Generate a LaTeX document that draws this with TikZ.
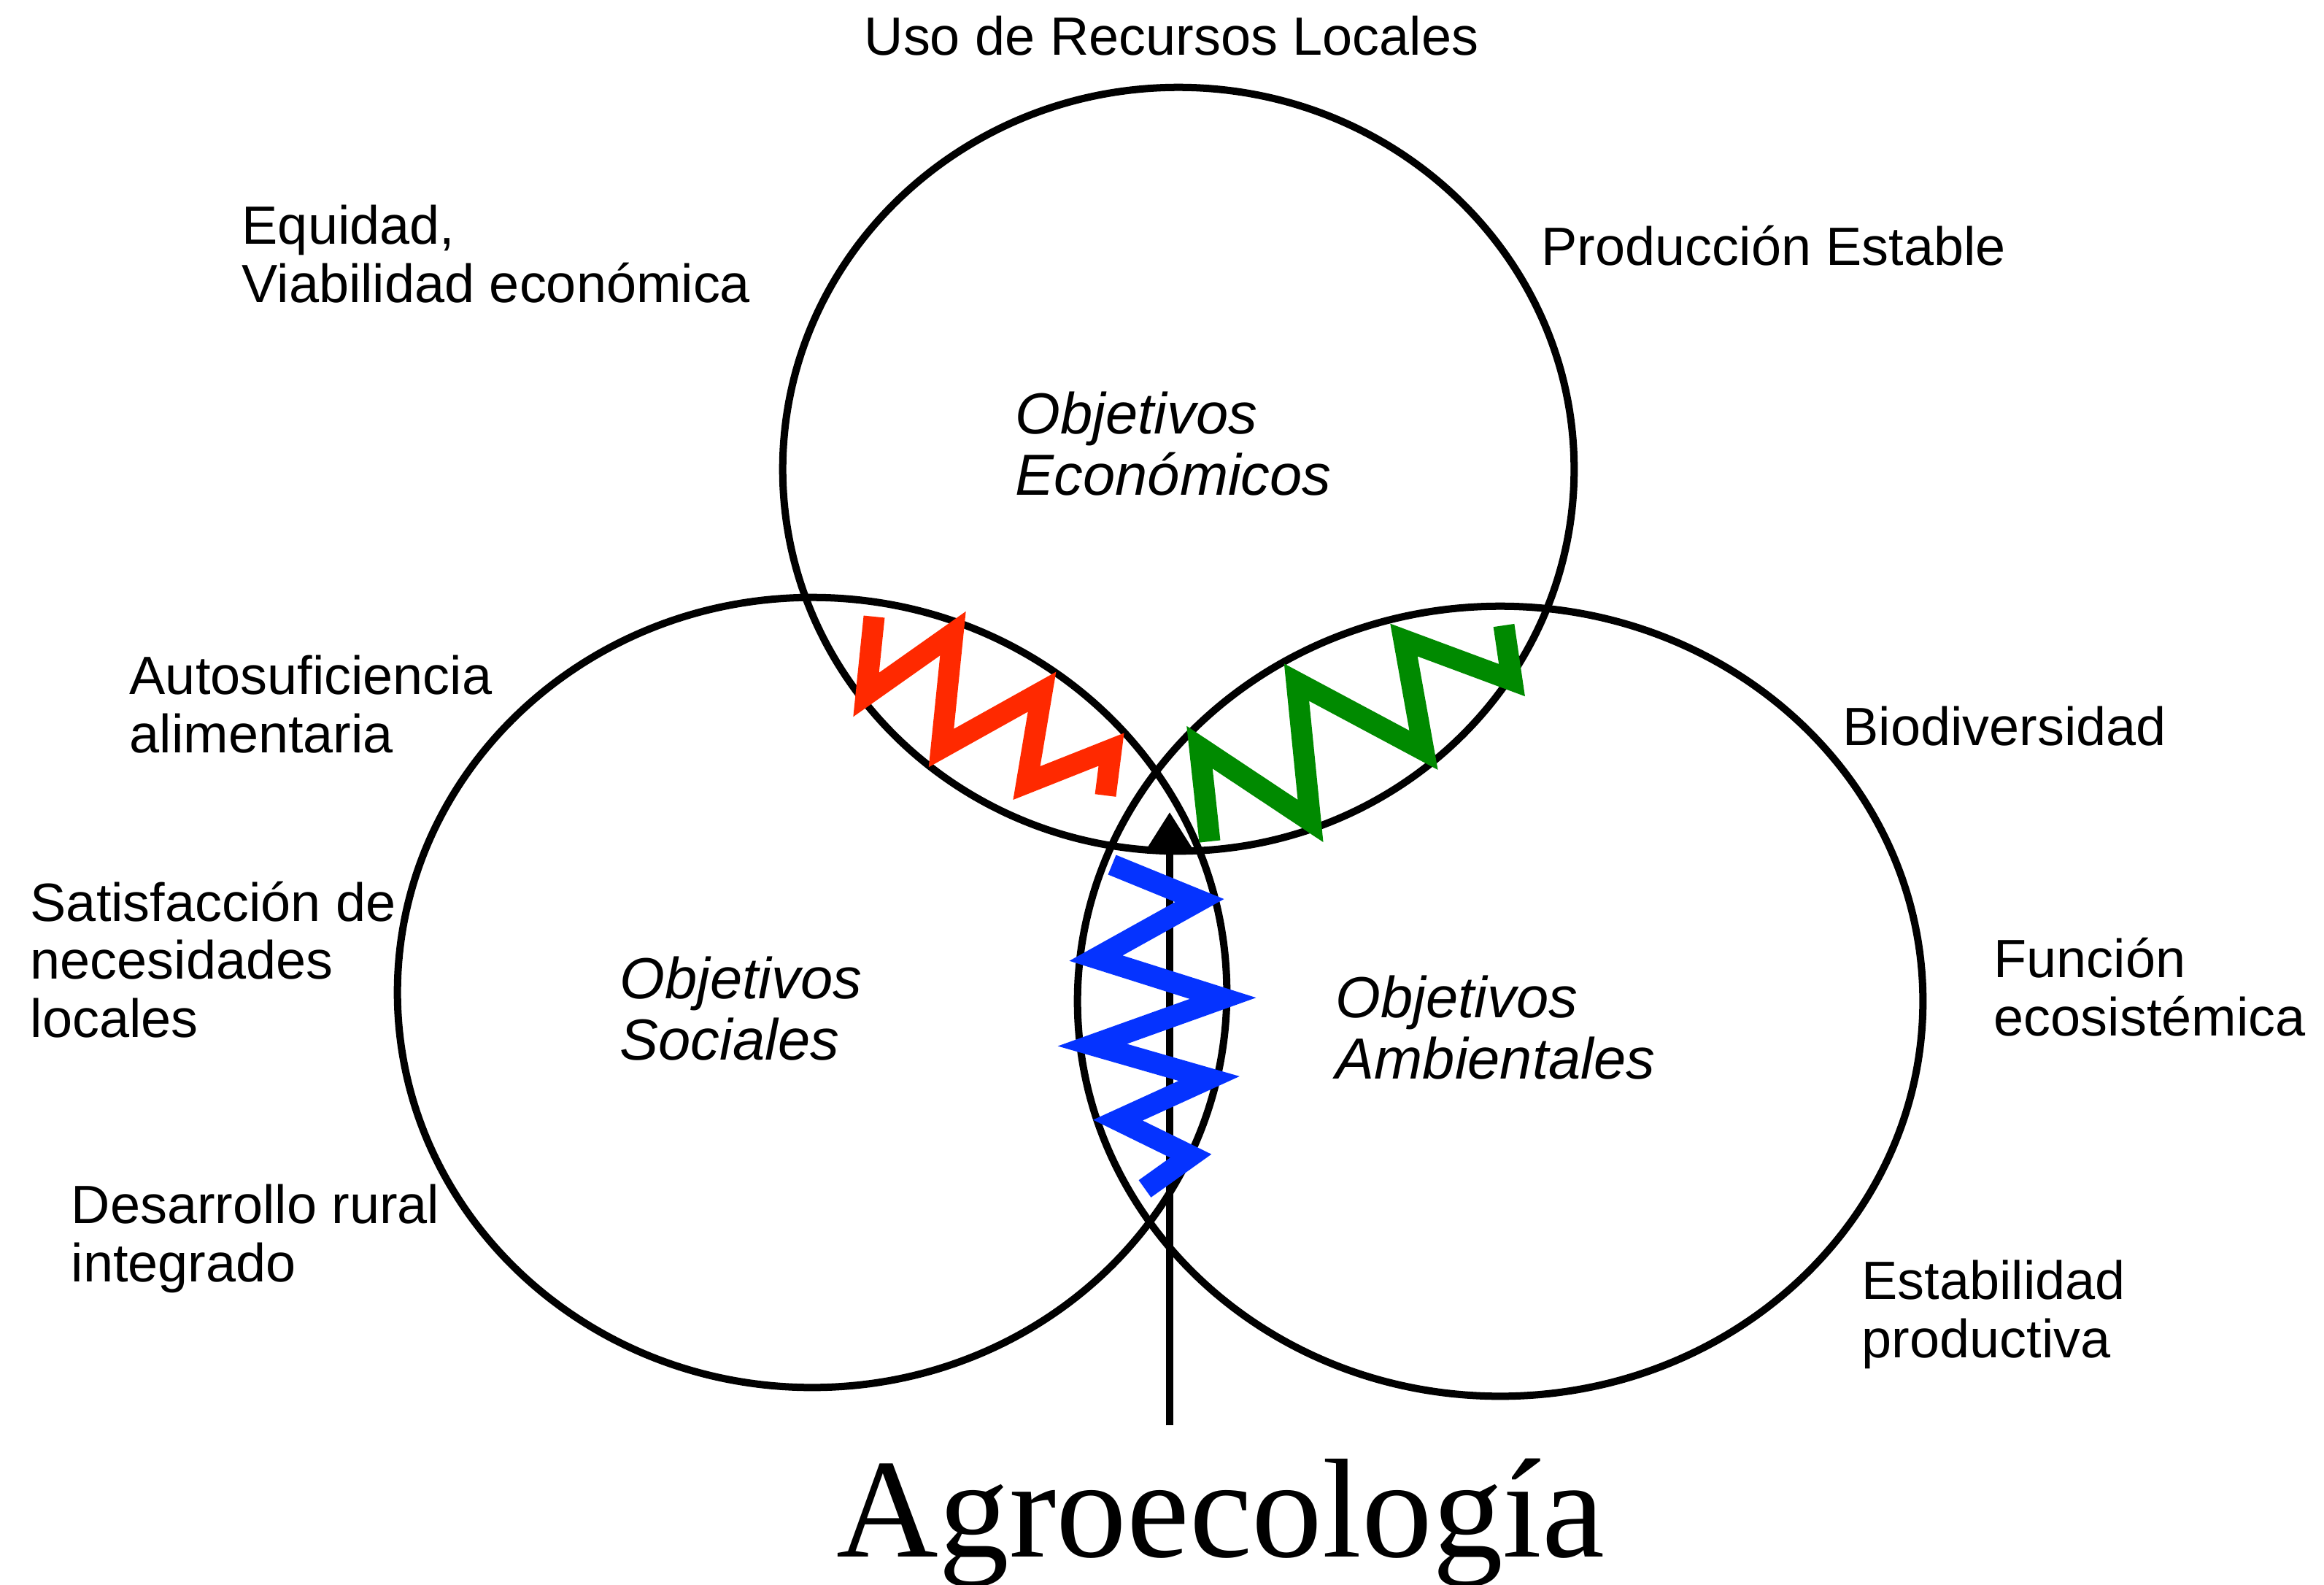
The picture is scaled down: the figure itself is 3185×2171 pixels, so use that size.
\documentclass[tikz,border=0pt]{standalone}
\usepackage{fontspec}
\setmainfont{Liberation Serif}
\setsansfont{Liberation Sans}
\usetikzlibrary{shapes.geometric,arrows.meta}
\definecolor{zzrojo}{RGB}{255,41,0}
\definecolor{zzverde}{RGB}{0,138,0}
\definecolor{zzazul}{RGB}{5,51,255}
\begin{document}
\begin{tikzpicture}
[x=0.01cm, y=-0.01cm,
 objetivo/.style={draw, ellipse, line width=0.1cm, inner sep=0pt},
 etiqueta/.style={anchor=base west, align=left, inner sep=0pt,
   font=\sffamily\fontsize{21}{22.5}\selectfont},
 titulo/.style={anchor=base west, align=left, inner sep=0pt,
   font=\sffamily\itshape\fontsize{22.6}{23.7}\selectfont},
 zigzag/.style={line width=0.29cm, miter limit=10},
 flecha/.style={line width=0.1cm, -{Triangle[length=0.53cm,width=0.64cm]}}]
\useasboundingbox (0,0) rectangle (3185,2171);

% los tres objetivos
\node[objetivo, minimum width=10.84cm, minimum height=10.46cm] (eco) at (1615,643) {};
\node[objetivo, minimum width=11.36cm, minimum height=10.82cm] (soc) at (1113,1360) {};
\node[objetivo, minimum width=11.58cm, minimum height=10.82cm] (amb) at (2056,1372) {};

% (la base de un nodo de varias lineas es la ultima linea)
\node[titulo] (ecoT) at (1391,678) {Objetivos\\Económicos};
\node[titulo] (socT) at (849,1452) {Objetivos\\Sociales};
\node[titulo] (ambT) at (1830,1478) {Objetivos\\Ambientales};

% etiquetas de alrededor
\node[etiqueta] (uso) at (1184,75) {Uso de Recursos Locales};
\node[etiqueta] (equidad) at (331,414) {Equidad,\\Viabilidad económica};
\node[etiqueta] (produccion) at (2112,363) {Producción Estable};
\node[etiqueta] (autosuf) at (177,1031) {Autosuficiencia\\alimentaria};
\node[etiqueta] (biodiv) at (2525,1021) {Biodiversidad};
\node[etiqueta] (satisf) at (41,1421) {Satisfacción de\\necesidades\\locales};
\node[etiqueta] (funcion) at (2732,1419) {Función\\ecosistémica};
\node[etiqueta] (desarrollo) at (97,1756) {Desarrollo rural\\integrado};
\node[etiqueta] (estab) at (2551,1860) {Estabilidad\\productiva};

% flecha
\node[anchor=base, inner sep=0pt, font=\rmfamily\fontsize{55}{60}\selectfont]
  (agro) at (1673,2133) {Agroecología};
\coordinate (pie) at (1603,1953);
\coordinate (punta) at (1603,1113);
\draw[flecha] (pie) -- (punta);

% tensiones
\draw[zigzag, zzrojo] (1198,845) -- (1187,952) -- (1306,868) -- (1290,1025)
  -- (1428,948) -- (1407,1073) -- (1523,1027) -- (1515,1090);
\draw[zigzag, zzverde] (1658,1153) -- (1644,1024) -- (1796,1125) -- (1777,935)
  -- (1951,1028) -- (1924,877) -- (2072,932) -- (2061,857);
\draw[zigzag, zzazul] (1524,1185) -- (1644,1234) -- (1502,1313) -- (1676,1368)
  -- (1497,1432) -- (1657,1478) -- (1532,1535) -- (1632,1584) -- (1569,1629);
\end{tikzpicture}
\end{document}
